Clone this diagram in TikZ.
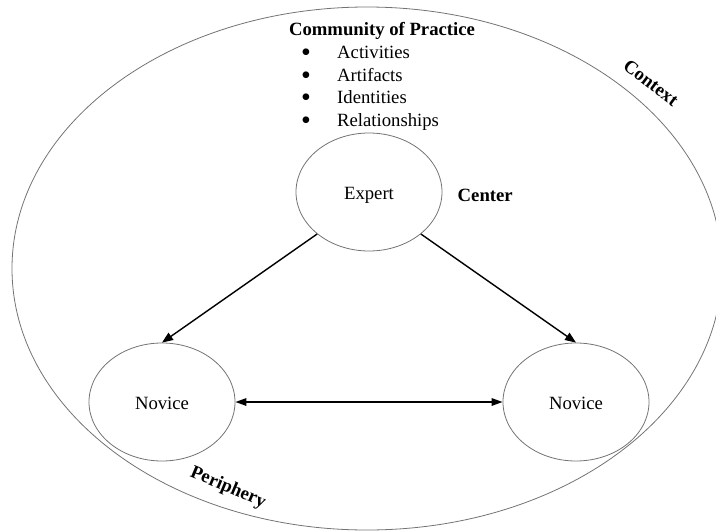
\documentclass[tikz,border=0pt]{standalone}
\usepackage{fontspec}
\setmainfont{Liberation Serif}
\usetikzlibrary{shapes.geometric,arrows.meta}
\begin{document}
\begin{tikzpicture}[x=1pt,y=-1pt,
  every node/.style={font=\fontsize{18.7}{22.7}\selectfont, inner sep=0pt},
  heading/.style={font=\fontsize{18.7}{22.7}\selectfont\bfseries},
  dot/.style={font=\fontsize{28}{30}\selectfont, anchor=base},
  member/.style={draw=black!55, line width=0.8pt, ellipse,
    minimum width=146pt, minimum height=118pt, text height=14pt, text depth=0pt},
  flow/.style={line width=1.4pt, -{Triangle[length=11pt,width=8.5pt]}},
  mutual/.style={line width=1.6pt, {Triangle[length=11pt,width=7.5pt]}-{Triangle[length=11pt,width=7.5pt]}}]
\useasboundingbox (0,0) rectangle (716,531);
\clip (0,0) rectangle (716,531);
% outer context
\draw[black!55, line width=0.8pt] (367,268.5) ellipse [x radius=355pt, y radius=261.5pt];
% community of practice
\node[heading, anchor=base] (cop) at (382,35) {Community of Practice};
\foreach \t/\b [count=\i] in {Activities/58, Artifacts/81, Identities/103.5, Relationships/126}{
  \node[dot] (bul\i) at (306,\b+3.2) {\textbullet};
  \node[anchor=base west] (item\i) at (337,\b) {\t};
}
% members
\node[member] (expert) at (369,192) {Expert};
\node[member] (novl) at (162,402) {Novice};
\node[member] (novr) at (576,402) {Novice};
\node[heading, anchor=base west] (center) at (457.5,201) {Center};
\node[heading, rotate=-37] (context) at (651,83) {Context};
\node[heading, rotate=-23] (periphery) at (228,488) {Periphery};
% relations
\draw[flow] (expert.219) -- (novl.north);
\draw[flow] (expert.321) -- (novr.north);
\draw[mutual] (novl.east) -- (novr.west);
\end{tikzpicture}
\end{document}
